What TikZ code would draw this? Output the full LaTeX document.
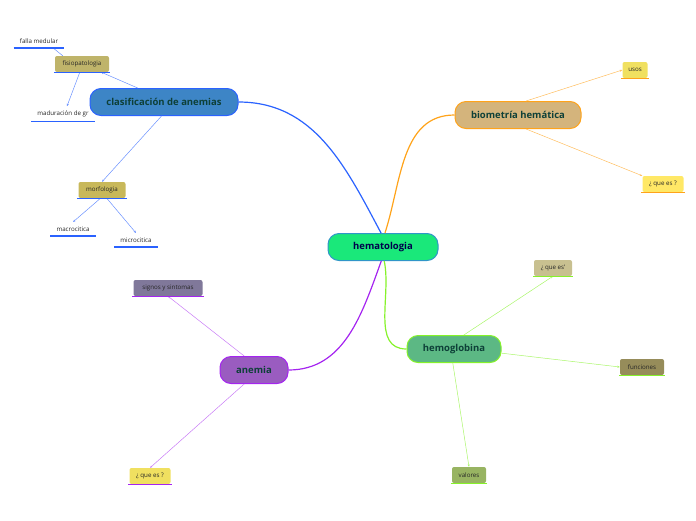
\documentclass[tikz,border=0pt]{standalone}
\usepackage{fontspec}
\setmainfont{Open Sans}
\usetikzlibrary{arrows.meta, positioning}

\definecolor{clasblue}{HTML}{2A62FF}
\definecolor{bioorange}{HTML}{FFA31A}
\definecolor{hemolime}{HTML}{86F22A}
\definecolor{anepurple}{HTML}{A524F0}
\definecolor{topictext}{HTML}{0E4038}

\begin{document}
\begin{tikzpicture}[x=1pt, y=-1pt, >=stealth,
  topic/.style={draw, line width=1pt, rounded corners=11pt, minimum height=27pt, inner sep=0pt,
    font=\bfseries\fontsize{9.5}{11}\selectfont, text=topictext},
  sub/.style={rounded corners=2pt, minimum height=16pt, inner sep=0pt, text=black!85,
    font=\fontsize{6.2}{7}\selectfont},
  leaf/.style={inner xsep=5pt, inner ysep=4.5pt, text=black!85, font=\fontsize{6.2}{7}\selectfont},
  thin/.style={line width=0.5pt, -{Stealth[length=2.5pt, width=2pt]}}]
  \useasboundingbox (0,0) rectangle (696,520);

  % central topic
  \node[topic, fill={rgb,255:red,26;green,232;blue,122}, draw={rgb,255:red,48;green,150;blue,200}, text=blue!30!black, minimum width=110pt] (hema) at (383,247) {hematologia};

  % main branches
  \node[topic, fill={rgb,255:red,61;green,133;blue,198}, draw=clasblue, minimum width=148pt] (clas) at (164,102) {clasificación de anemias};
  \node[topic, fill={rgb,255:red,212;green,180;blue,124}, draw=bioorange, minimum width=126pt] (bio) at (518,115) {biometría hemática};
  \node[topic, fill={rgb,255:red,92;green,184;blue,132}, draw=hemolime, minimum width=94pt] (hemo) at (454,349) {hemoglobina};
  \node[topic, fill={rgb,255:red,154;green,92;blue,192}, draw=anepurple, minimum width=68pt] (anemia) at (254,370) {anemia};

  \draw[clasblue, line width=1.2pt] (clas.east) to[out=0, in=118] (hema.98);
  \draw[bioorange, line width=1.2pt] (bio.west) to[out=180, in=72] (hema.82);
  \draw[anepurple, line width=1.2pt] (anemia.east) to[out=0, in=-110] (hema.-97);
  \draw[hemolime, line width=1.2pt] (hemo.west) to[out=180, in=-78] (hema.-85);

  % clasificacion de anemias
  \node[sub, fill={rgb,255:red,191;green,180;blue,106}, minimum width=54pt] (fisio) at (82,64) {fisiopatologia};
  \node[leaf] (falla) at (39,41) {falla medular};
  \node[leaf] (madur) at (63,114) {maduración de gr};
  \node[sub, fill={rgb,255:red,200;green,184;blue,90}, minimum width=47pt] (morfo) at (102,190) {morfologia};
  \node[leaf] (macro) at (73,229) {macrocitica};
  \node[leaf] (micro) at (136,240) {microcitica};

  \draw[thin, clasblue!70] (clas.152) -- ([xshift=-8pt]fisio.south east);
  \draw[line width=0.5pt, clasblue!70] ([xshift=8pt]fisio.north west) -- ([xshift=-10pt]falla.south east);
  \draw[thin, clasblue!70] (fisio.-105) -- ([xshift=4pt]madur.north);
  \draw[thin, clasblue!70] (clas.-100) -- (morfo.north);
  \draw[thin, clasblue!70] (morfo.-100) -- (macro.north);
  \draw[thin, clasblue!70] (morfo.-60) -- (micro.north);

  % biometria hematica
  \node[sub, fill={rgb,255:red,240;green,224;blue,96}, minimum width=25pt] (usos) at (635,70) {usos};
  \node[sub, fill={rgb,255:red,255;green,232;blue,102}, minimum width=41pt] (quebio) at (663,184) {¿ que es ?};
  \draw[thin, bioorange!70] (bio.60) -- (usos.west);
  \draw[thin, bioorange!70] (bio.-60) -- (quebio.north west);

  % hemoglobina
  \node[sub, fill={rgb,255:red,200;green,192;blue,144}, minimum width=38pt] (quehemo) at (553,268) {¿ que es'};
  \node[sub, fill={rgb,255:red,150;green,140;blue,90}, minimum width=44pt] (func) at (642,367) {funciones};
  \node[sub, fill={rgb,255:red,152;green,180;blue,98}, minimum width=34pt] (valores) at (469,475) {valores};
  \draw[thin, hemolime!70] (hemo.55) -- (quehemo.south);
  \draw[thin, hemolime!70] (hemo.-5) -- (func.west);
  \draw[thin, hemolime!70] (hemo.-95) -- (valores.north);

  % anemia
  \node[sub, fill={rgb,255:red,128;green,120;blue,154}, minimum width=69pt] (signos) at (168,288) {signos y sintomas};
  \node[sub, fill={rgb,255:red,240;green,224;blue,96}, minimum width=41pt] (queane) at (150,476) {¿ que es ?};
  \draw[thin, anepurple!60] (anemia.125) -- (signos.south);
  \draw[thin, anepurple!60] (anemia.-125) -- (queane.north);

  % underlines
  \foreach \n/\c in {falla/clasblue, fisio/clasblue, madur/clasblue, morfo/clasblue, macro/clasblue, micro/clasblue,
    usos/bioorange, quebio/bioorange, quehemo/hemolime, func/hemolime, valores/hemolime, signos/anepurple, queane/anepurple}
    \draw[line width=1.3pt, \c] ([xshift=-1pt]\n.south west) -- ([xshift=1pt]\n.south east);
\end{tikzpicture}
\end{document}
